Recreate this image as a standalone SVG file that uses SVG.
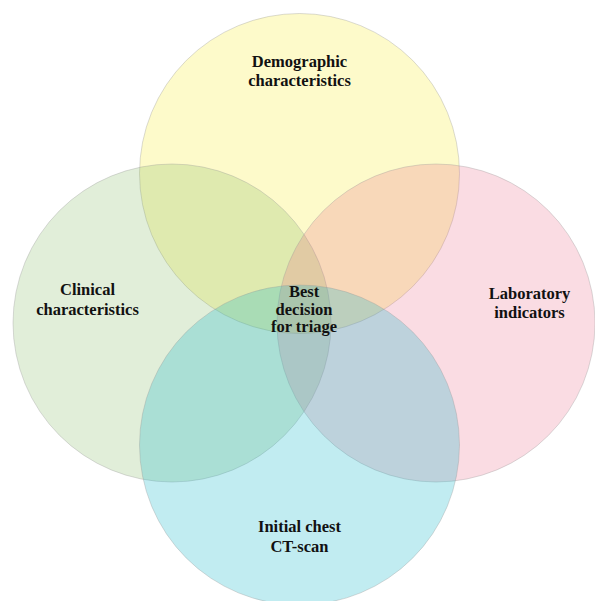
<svg xmlns="http://www.w3.org/2000/svg" width="595" height="601" viewBox="0 0 595 601">
<style>
.c{stroke:#999;stroke-opacity:0.35;stroke-width:1}
.t{font-family:"Liberation Serif","Times New Roman",serif;font-weight:bold;font-size:16.5px;fill:#111;text-anchor:middle}
</style>
<rect width="595" height="601" fill="#fff"/>
<g id="demographic">
<circle class="c" cx="299.5" cy="173.5" r="160" fill="#F8EC20" fill-opacity="0.24"/>
</g>
<g id="clinical">
<circle class="c" cx="172" cy="323" r="159" fill="#78B050" fill-opacity="0.22"/>
</g>
<g id="laboratory">
<circle class="c" cx="436" cy="323" r="159" fill="#E8607F" fill-opacity="0.22"/>
</g>
<g id="ctscan">
<circle class="c" cx="299.5" cy="445" r="160" fill="#10B4C8" fill-opacity="0.26"/>
</g>
<g id="labels">
<text class="t" x="299.5" y="67">Demographic</text>
<text class="t" x="299.5" y="86">characteristics</text>
<text class="t" x="87.5" y="295">Clinical</text>
<text class="t" x="87.5" y="315">characteristics</text>
<text class="t" x="529.5" y="299">Laboratory</text>
<text class="t" x="529.5" y="318">indicators</text>
<text class="t" x="304" y="297">Best</text>
<text class="t" x="304" y="314.5">decision</text>
<text class="t" x="304" y="332">for triage</text>
<text class="t" x="299.5" y="532">Initial chest</text>
<text class="t" x="299.5" y="552">CT-scan</text>
</g>
<g id="connectors"/>
</svg>
